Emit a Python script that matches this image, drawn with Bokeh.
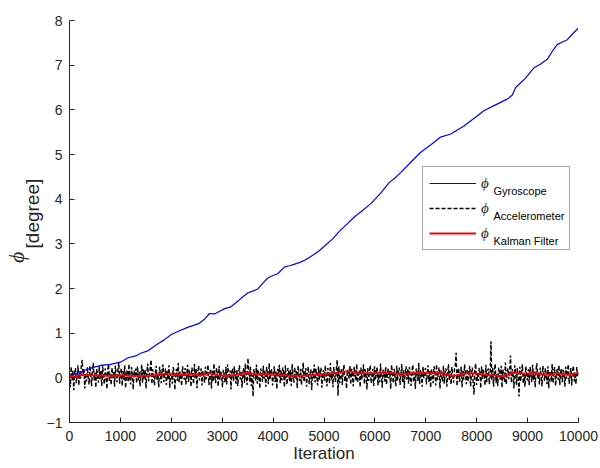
import numpy as np
from bokeh.plotting import figure
from bokeh.models import Range1d, FixedTicker, Legend, LegendItem, Label, LinearAxis
from bokeh.embed import file_html
from bokeh.resources import INLINE

# ---- data ----
gyro_iter = [0, 150, 300, 450, 620, 800, 1000, 1150, 1300, 1400, 1550, 1660, 1760, 1860,
             2000, 2150, 2320, 2450, 2550, 2650, 2750, 2850, 2950, 3050, 3170, 3270, 3370,
             3500, 3600, 3700, 3800, 3890, 4000, 4090, 4220, 4320, 4410, 4540, 4650, 4800,
             4900, 5000, 5170, 5300, 5450, 5595, 5750, 5920, 6100, 6280, 6400, 6510, 6700,
             6900, 7100, 7290, 7490, 7620, 7750, 7950, 8140, 8350, 8600, 8700, 8765, 8950,
             9125, 9250, 9385, 9480, 9580, 9680, 9780, 9900, 9990]
gyro_val = [0.02, 0.10, 0.17, 0.23, 0.28, 0.30, 0.35, 0.45, 0.49, 0.55, 0.61, 0.70, 0.78, 0.85,
            0.97, 1.05, 1.13, 1.18, 1.22, 1.31, 1.44, 1.43, 1.49, 1.55, 1.59, 1.68, 1.78,
            1.90, 1.94, 1.99, 2.12, 2.23, 2.29, 2.33, 2.48, 2.51, 2.54, 2.59, 2.65, 2.76,
            2.84, 2.94, 3.11, 3.28, 3.44, 3.60, 3.74, 3.90, 4.12, 4.37, 4.48, 4.60, 4.82,
            5.05, 5.22, 5.39, 5.46, 5.55, 5.64, 5.81, 5.98, 6.10, 6.24, 6.33, 6.50, 6.70,
            6.94, 7.02, 7.13, 7.30, 7.46, 7.52, 7.57, 7.72, 7.82]

kal_iter = [0, 98, 229, 420, 627, 824, 1020, 1281, 1608, 1800, 1935, 2065, 2327, 2588, 2752,
            2915, 3176, 3503, 3699, 3895, 4157, 4353, 4549, 4750, 4941, 5203, 5464, 5725,
            6000, 6248, 6510, 6700, 6902, 7100, 7294, 7523, 7817, 8050, 8275, 8536, 8732,
            8950, 9124, 9300, 9451, 9582, 9778, 9993]
kal_val = [0.05, 0.01, 0.07, 0.06, 0.05, 0.04, 0.06, 0.04, 0.05, 0.08, 0.10, 0.07, 0.08, 0.06,
           0.10, 0.06, 0.05, 0.11, 0.08, 0.09, 0.07, 0.04, 0.05, 0.06, 0.08, 0.10, 0.15, 0.10,
           0.11, 0.12, 0.08, 0.10, 0.12, 0.10, 0.11, 0.04, 0.10, 0.09, 0.06, 0.04, 0.12, 0.09,
           0.10, 0.08, 0.07, 0.10, 0.07, 0.11]

acc_val = [
    0.12, -0.21, 0.25, -0.05, 0.18, -0.28, 0.09, 0.22, -0.12, 0.03, 0.28, -0.17, 0.14, -0.02, 0.31, 0.40, 0.06, 0.19, -0.24, 0.11,
    -0.08, 0.24, 0.01, -0.15, 0.27, 0.07, -0.19, 0.16, 0.33, -0.06, 0.12, -0.22, 0.20, 0.04, -0.11, 0.26, -0.03, 0.15, -0.18, 0.29,
    0.02, -0.14, 0.21, 0.08, -0.25, 0.17, 0.30, -0.07, 0.10, -0.16, 0.23, -0.01, 0.13, -0.20, 0.27, 0.05, -0.10, 0.19, 0.34, -0.13,
    0.09, 0.22, -0.18, 0.15, -0.04, 0.28, -0.23, 0.07, 0.18, -0.09, 0.31, 0.00, -0.15, 0.24, 0.11, -0.26, 0.16, 0.03, 0.21, -0.12,
    0.26, -0.06, 0.14, -0.19, 0.08, 0.29, -0.11, 0.20, -0.02, 0.17, -0.24, 0.12, 0.32, -0.08, 0.05, 0.23, 0.40, -0.14, 0.19, 0.01,
    -0.17, 0.13, 0.27, -0.05, 0.10, -0.21, 0.25, 0.06, -0.12, 0.18, 0.30, -0.09, 0.04, 0.21, -0.16, 0.15, -0.03, 0.28, -0.22, 0.11,
    0.07, -0.13, 0.24, 0.16, -0.27, 0.09, 0.20, -0.07, 0.33, -0.10, 0.14, 0.02, -0.18, 0.26, 0.12, -0.04, 0.22, -0.15, 0.08, 0.29,
    -0.09, 0.17, 0.05, -0.20, 0.23, 0.10, -0.14, 0.31, -0.01, 0.19, -0.23, 0.13, 0.27, -0.06, 0.08, 0.21, -0.17, 0.15, 0.03, -0.11,
    0.25, -0.03, 0.12, 0.29, -0.16, 0.06, 0.20, -0.24, 0.16, -0.08, 0.32, 0.01, -0.12, 0.22, 0.09, -0.19, 0.27, -0.05, 0.14, 0.04,
    -0.21, 0.18, 0.07, -0.10, 0.24, -0.15, 0.30, 0.11, -0.02, 0.17, -0.26, 0.13, 0.21, -0.07, 0.26, 0.05, -0.13, 0.19, -0.18, 0.10,
    0.28, -0.04, 0.15, -0.22, 0.09, 0.23, -0.11, 0.32, 0.02, -0.16, 0.44, 0.14, -0.08, 0.25, -0.19, 0.07, -0.42, 0.20, 0.12, -0.06,
    0.30, -0.13, 0.18, 0.04, -0.24, 0.21, 0.11, -0.09, 0.27, -0.02, 0.16, -0.20, 0.24, 0.08, -0.14, 0.33, -0.05, 0.12, 0.19, -0.17,
    0.06, 0.26, -0.10, 0.14, -0.25, 0.20, 0.03, 0.29, -0.12, 0.17, -0.06, 0.23, 0.10, -0.21, 0.28, 0.01, -0.15, 0.22, 0.13, -0.08,
    0.18, -0.18, 0.31, 0.05, -0.11, 0.24, -0.03, 0.15, -0.23, 0.27, 0.09, -0.07, 0.20, -0.16, 0.12, 0.34, -0.09, 0.06, 0.22, -0.20,
    0.11, 0.25, -0.14, 0.08, 0.19, -0.27, 0.16, -0.01, 0.30, -0.10, 0.21, 0.04, -0.17, 0.26, -0.05, 0.13, 0.23, -0.22, 0.10, 0.17,
    -0.07, 0.28, 0.02, -0.19, 0.22, 0.12, -0.13, 0.33, -0.04, 0.15, -0.21, 0.24, 0.07, -0.09, 0.19, 0.40, -0.40, 0.26, -0.12, 0.09,
    0.21, -0.16, 0.14, 0.29, -0.08, 0.05, -0.24, 0.18, 0.11, -0.02, 0.27, -0.15, 0.20, 0.03, -0.19, 0.25, 0.13, -0.06, 0.31, -0.11,
    0.08, 0.17, -0.21, 0.23, -0.03, 0.12, 0.30, -0.14, 0.19, 0.06, -0.26, 0.22, -0.07, 0.15, 0.28, -0.12, 0.04, 0.20, -0.18, 0.26,
    -0.05, 0.13, 0.24, -0.17, 0.09, -0.10, 0.32, 0.01, -0.22, 0.18, 0.11, -0.08, 0.25, -0.15, 0.07, 0.21, -0.02, 0.16, -0.25, 0.29,
    0.10, -0.12, 0.20, 0.05, -0.19, 0.27, -0.06, 0.14, 0.23, -0.16, 0.08, 0.31, -0.09, 0.17, -0.23, 0.12, 0.26, -0.04, 0.19, -0.13,
    0.24, 0.02, -0.18, 0.15, 0.29, -0.10, 0.11, -0.25, 0.21, 0.06, -0.07, 0.33, -0.14, 0.18, 0.09, -0.20, 0.25, -0.01, 0.13, 0.22,
    -0.15, 0.07, 0.28, -0.09, 0.16, -0.22, 0.20, 0.03, -0.12, 0.26, 0.14, -0.17, 0.30, -0.05, 0.10, 0.23, -0.24, 0.17, 0.04, -0.08,
    0.27, -0.13, 0.12, 0.21, -0.20, 0.08, 0.31, -0.06, 0.16, -0.15, 0.24, 0.01, -0.11, 0.19, 0.28, 0.56, -0.18, 0.14, 0.22, -0.09,
    0.05, 0.25, -0.21, 0.17, -0.04, 0.30, 0.10, -0.14, 0.20, -0.08, 0.13, 0.27, -0.19, 0.07, 0.23, -0.11, -0.37, 0.18, 0.32, -0.16,
    0.09, -0.07, 0.22, 0.14, -0.23, 0.26, -0.02, 0.18, 0.06, -0.17, 0.29, -0.10, 0.15, 0.21, -0.14, 0.03, 0.82, -0.05, 0.24, -0.20,
    0.16, 0.31, -0.12, 0.08, -0.18, 0.23, 0.12, -0.06, 0.27, -0.22, 0.19, 0.04, -0.09, 0.34, -0.15, 0.11, 0.21, -0.03, 0.17, 0.50,
    -0.11, 0.20, 0.07, -0.24, 0.28, 0.13, -0.16, 0.22, 0.02, -0.42, 0.25, -0.08, 0.15, 0.30, -0.13, 0.09, -0.20, 0.26, 0.05, -0.06,
    0.19, -0.17, 0.24, 0.10, -0.10, 0.29, -0.05, 0.14, -0.21, 0.18, 0.33, -0.01, 0.12, -0.15, 0.23, 0.06, -0.19, 0.27, 0.11, -0.07,
    0.22, 0.03, -0.14, 0.26, -0.23, 0.15, 0.08, -0.09, 0.31, -0.12, 0.17, 0.24, -0.18, 0.05, 0.20, -0.04, 0.28, -0.16, 0.13, 0.21,
    -0.10, 0.18, 0.09, -0.20, 0.25, -0.02, 0.14, 0.30, -0.13, 0.07, 0.22, -0.17, 0.16, 0.27, -0.08, 0.11, -0.14, 0.24, 0.04, 0.13,
]
acc_iter = np.linspace(0, 10000, len(acc_val))

x_ticks = [0, 1000, 2000, 3000, 4000, 5000, 6000, 7000, 8000, 9000, 10000]
y_ticks = [-1, 0, 1, 2, 3, 4, 5, 6, 7, 8]
series_names = ["Gyroscope", "Accelerometer", "Kalman Filter"]

AX = "#262626"
NB = "\u00a0"

p = figure(width=600, height=468, x_range=Range1d(0, 10000), y_range=Range1d(-1, 8),
           output_backend="svg", toolbar_location=None,
           min_border_left=68, min_border_right=22, min_border_top=20, min_border_bottom=46)
p.outline_line_color = None
p.grid.visible = False
p.background_fill_color = "white"
p.border_fill_color = "white"

for ax in (p.xaxis[0], p.yaxis[0]):
    ax.axis_line_color = AX
    ax.axis_line_width = 1
    ax.major_tick_line_color = AX
    ax.major_tick_in = 5
    ax.major_tick_out = 0
    ax.minor_tick_line_color = None
    ax.major_label_text_font = "Liberation Sans"
    ax.major_label_text_font_size = "14px"
    ax.major_label_text_color = AX
p.xaxis.ticker = FixedTicker(ticks=x_ticks)
p.yaxis.ticker = FixedTicker(ticks=y_ticks)
p.xaxis.major_label_standoff = 8
p.yaxis.major_label_standoff = 7
p.xaxis.axis_label = "Iteration"
p.xaxis.axis_label_text_font = "Liberation Sans"
p.xaxis.axis_label_text_font_size = "17px"
p.xaxis.axis_label_text_font_style = "normal"
p.xaxis.axis_label_text_color = AX
p.xaxis.axis_label_standoff = 0

# y-axis title: phi with subscript [degree]
p.yaxis.axis_label = NB * 3 + "[degree]"
p.yaxis.axis_label_text_font = "Liberation Sans"
p.yaxis.axis_label_text_font_size = "19px"
p.yaxis.axis_label_text_font_style = "normal"
p.yaxis.axis_label_text_color = AX
p.yaxis.axis_label_standoff = 1

phi_axis = LinearAxis(ticker=FixedTicker(ticks=[]), axis_line_color=None,
                      major_tick_line_color=None, minor_tick_line_color=None,
                      major_label_standoff=0, major_tick_in=0, major_tick_out=0,
                      axis_label="ϕ" + NB * 13, axis_label_standoff=-10,
                      axis_label_text_font="Liberation Serif", axis_label_text_font_size="22px",
                      axis_label_text_font_style="italic", axis_label_text_color=AX)
p.add_layout(phi_axis, "left")

r_acc = p.line(acc_iter, acc_val, line_color="black", line_width=1.4, line_dash="4 2")
r_gyro = p.line(gyro_iter, gyro_val, line_color="#0000FF", line_width=1.2)
r_kal = p.line(kal_iter, kal_val, line_color="#FF0000", line_width=2)

legend = Legend(items=[LegendItem(label="ϕ", renderers=[r_gyro]),
                       LegendItem(label="ϕ", renderers=[r_acc]),
                       LegendItem(label="ϕ", renderers=[r_kal])],
                location=(353, 172), padding=6, spacing=5, glyph_width=47, glyph_height=20,
                label_standoff=5, label_width=82, label_height=20,
                label_text_font="Liberation Serif", label_text_font_style="italic",
                label_text_font_size="15px", label_text_color=AX,
                border_line_color="#555555", border_line_width=1,
                background_fill_alpha=0.0, margin=0)
p.add_layout(legend)

for name, yy in zip(series_names, [232, 207, 182]):
    p.add_layout(Label(x=424, y=yy, x_units="screen", y_units="screen", text=name,
                       text_font="Liberation Sans", text_font_size="11px", text_color="black",
                       text_align="left", text_baseline="alphabetic"))

open("out.html", "w").write(file_html(p, INLINE))
